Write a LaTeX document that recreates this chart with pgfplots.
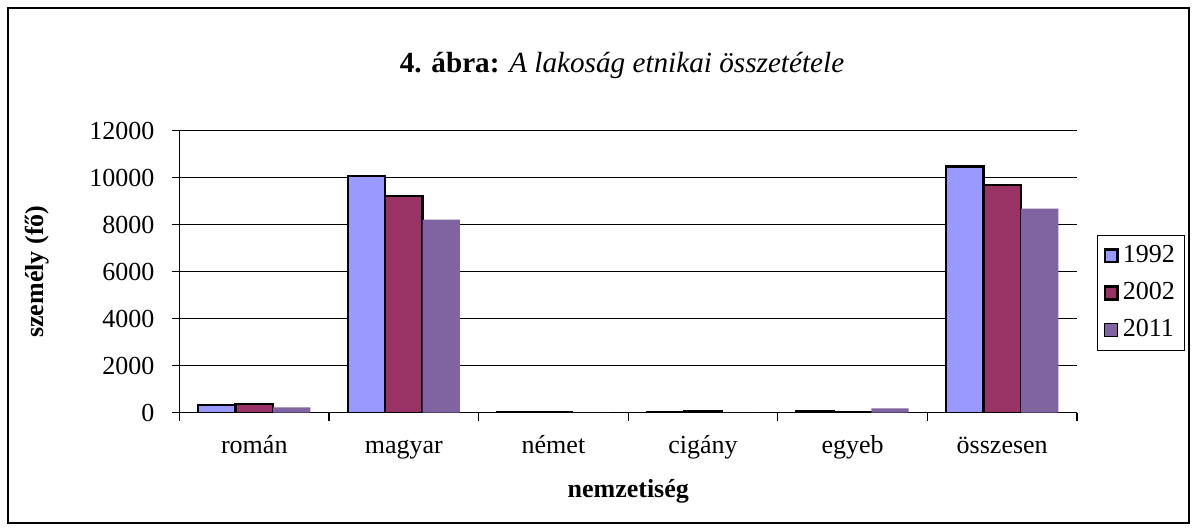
\documentclass[border=0pt]{standalone}
\usepackage{pgfplots}
\pgfplotsset{compat=1.18}
\usepackage{fontspec}
\setmainfont{Liberation Serif}
\definecolor{c1}{HTML}{9999FF}
\definecolor{c2}{HTML}{993366}
\definecolor{c3}{HTML}{8064A2}
\begin{document}
\fontsize{13}{15.6}\selectfont
\begin{tikzpicture}
\path[use as bounding box] (0pt,0pt) rectangle (598.5pt,265.5pt);
\draw[black, line width=0.6pt] (4pt,4pt) rectangle (594.5pt,261.5pt);
\node[font=\fontsize{14.6}{17.5}\selectfont] at (311pt,233pt) {\textbf{4. ábra:} \textit{A lakoság etnikai összetétele}};
\begin{axis}[
  at={(89.75pt,59.15pt)}, anchor=south west,
  scale only axis, width=448.75pt, height=141pt,
  xmin=-0.5, xmax=5.5, ymin=0, ymax=12000,
  axis x line*=bottom, axis y line*=left,
  axis line style={black, line width=0.6pt, -},
  ytick={0,2000,4000,6000,8000,10000,12000},
  scaled y ticks=false,
  /pgf/number format/1000 sep={},
  /pgf/number format/assume math mode=true,
  ymajorgrids, major grid style={black, line width=0.5pt},
  xtick={0,1,2,3,4,5},
  xticklabels={román,magyar,német,cigány,egyeb,összesen},
  minor xtick={-0.5,0.5,1.5,2.5,3.5,4.5,5.5},
  tick align=outside,
  major tick length=4pt,
  minor tick length=4pt,
  major x tick style={draw=none},
  tick style={black, line width=0.6pt},
  xticklabel style={font=\fontsize{13}{15.6}\selectfont, text height=9pt, text depth=3pt, yshift=-3pt},
  yticklabel style={font=\fontsize{13}{15.6}\selectfont, xshift=-4pt},
  xlabel={\textbf{nemzetiség}},
  ylabel={\textbf{személy (fő)}},
  label style={font=\fontsize{13}{15.6}\selectfont},
  xlabel style={at={(axis description cs:0.5,-0.2777)}, anchor=center},
  ylabel style={at={(axis description cs:-0.1588,0.5)}, anchor=center},
  ybar, bar width=0.25,
  legend style={at={(1.0223,0.4245)}, anchor=west, draw=black, line width=0.6pt,
    font=\fontsize{13}{15.6}\selectfont, row sep=4pt, inner sep=3pt},
  legend cell align=left,
  legend image code/.code={\draw[#1] (0pt,-3.2pt) rectangle (6.4pt,3.2pt);},
]
\addplot[fill=c1, draw=black, line width=1.2pt, bar shift=-0.25] coordinates {(0,340) (1,10085) (2,30) (3,40) (4,50) (5,10480)};
\addplot[fill=c2, draw=black, line width=1.2pt, bar shift=0] coordinates {(0,365) (1,9234) (2,25) (3,80) (4,15) (5,9680)};
\addplot[fill=c3, draw=none, bar shift=0.25] coordinates {(0,225) (1,8220) (2,5) (3,3) (4,180) (5,8680)};
\legend{1992,2002,2011}
\end{axis}
\end{tikzpicture}
\end{document}
